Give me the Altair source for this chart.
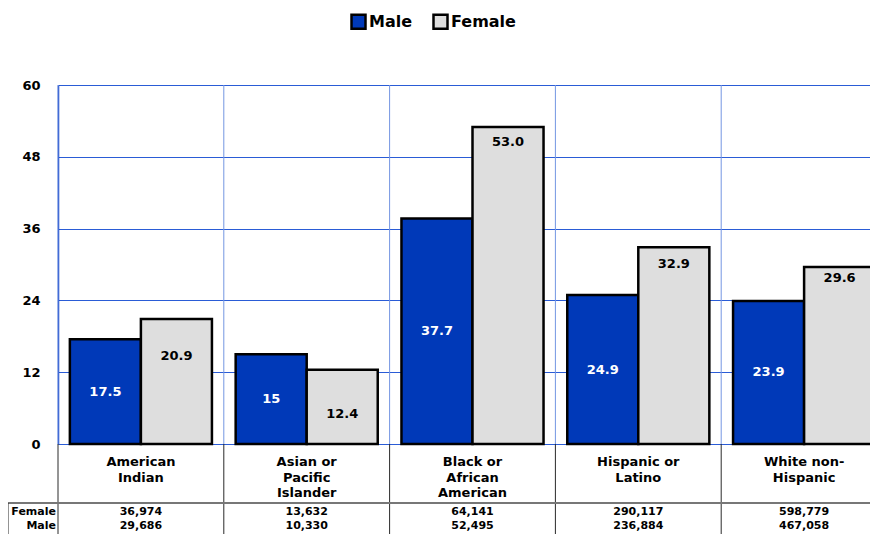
import altair as alt
import pandas as pd

# ---------------- data ----------------
categories = [
    "American Indian",
    "Asian or Pacific Islander",
    "Black or African American",
    "Hispanic or Latino",
    "White non-Hispanic",
]
category_labels = [
    "American\nIndian",
    "Asian or\nPacific\nIslander",
    "Black or\nAfrican\nAmerican",
    "Hispanic or\nLatino",
    "White non-\nHispanic",
]
series = ["Male", "Female"]
male_rates = [17.5, 15.0, 37.7, 24.9, 23.9]
female_rates = [20.9, 12.4, 53.0, 32.9, 29.6]
male_rate_labels = ["17.5", "15", "37.7", "24.9", "23.9"]
female_rate_labels = ["20.9", "12.4", "53.0", "32.9", "29.6"]
female_counts = ["36,974", "13,632", "64,141", "290,117", "598,779"]
male_counts = ["29,686", "10,330", "52,495", "236,884", "467,058"]
y_ticks = [0, 12, 24, 36, 48, 60]

# ---------------- style ----------------
W, H = 812, 359          # visible plot area
BAND_RANGE = 829         # band scale reaches past the right edge (cut off, as in the original)
PAD_BOTTOM = 90
Y_MAX = 60
FONT = "DejaVu Sans"
MALE_COLOR = "#0039B8"
FEMALE_COLOR = "#DEDEDE"
GRID_COLOR = "#2A5CD6"
VGRID_COLOR = "#7496E2"
TABLE_LINE = "#2a2a2a"
# pixel distance of each female value label below the top of its bar
female_label_offsets_px = [37, 44, 15, 17, 11]
CAT_LABEL_Y = H + 12
TABLE_LINE_Y = H + 59
FEMALE_ROW_Y = H + 68
MALE_ROW_Y = H + 82

px_per_unit = H / Y_MAX

bars_df = pd.DataFrame(
    {
        "cat": categories * 2,
        "series": ["Male"] * 5 + ["Female"] * 5,
        "value": male_rates + female_rates,
    }
)
male_lbl_df = pd.DataFrame(
    {
        "cat": categories,
        "series": ["Male"] * 5,
        "value": [v / 2 for v in male_rates],
        "text": male_rate_labels,
    }
)
female_lbl_df = pd.DataFrame(
    {
        "cat": categories,
        "series": ["Female"] * 5,
        "value": [v - o / px_per_unit for v, o in zip(female_rates, female_label_offsets_px)],
        "text": female_rate_labels,
    }
)
cat_df = pd.DataFrame({"cat": categories, "label": category_labels,
                       "female": female_counts, "male": male_counts})
one = pd.DataFrame({"k": [0]})

x_scale = alt.Scale(domain=categories, paddingInner=0, paddingOuter=0,
                    range=[0, BAND_RANGE])
x_enc = alt.X("cat:N", sort=categories, scale=x_scale, axis=None)
x_edge = alt.X("cat:N", sort=categories, scale=x_scale, axis=None, bandPosition=0)
xo_enc = alt.XOffset(
    "series:N", sort=series,
    scale=alt.Scale(domain=series, paddingInner=0, paddingOuter=0.167),
)
y_scale = alt.Scale(domain=[0, Y_MAX], nice=False, zero=True)
y_axis = alt.Axis(
    values=y_ticks, title=None, grid=True, gridColor=GRID_COLOR,
    gridWidth=1.2, gridOpacity=1, ticks=False, domain=True,
    domainColor="#1140C8", domainWidth=1.5, labelPadding=18,
    labelFont=FONT, labelFontWeight="bold", labelFontSize=13,
    labelColor="black", format="d",
)
y_enc = alt.Y("value:Q", scale=y_scale, axis=y_axis)

# vertical band boundaries inside plot
vgrid = alt.Chart(cat_df).mark_rule(color=VGRID_COLOR, strokeWidth=1).encode(
    x=x_edge, y=alt.value(0), y2=alt.value(H),
)
# vertical band boundaries below plot (label + table area)
vlow = alt.Chart(cat_df).mark_rule(color=TABLE_LINE, strokeWidth=1).encode(
    x=x_edge, y=alt.value(H), y2=alt.value(H + PAD_BOTTOM),
)
hline = alt.Chart(one).mark_rule(color="#777777", strokeWidth=2).encode(
    x=alt.value(-50), x2=alt.value(W + 20), y=alt.value(TABLE_LINE_Y)
)
boxline = alt.Chart(one).mark_rule(color=TABLE_LINE, strokeWidth=1).encode(
    x=alt.value(-50), y=alt.value(TABLE_LINE_Y), y2=alt.value(H + PAD_BOTTOM)
)

bars = alt.Chart(bars_df).mark_bar(stroke="black", strokeWidth=2.5, opacity=1).encode(
    x=x_enc,
    xOffset=xo_enc,
    y=y_enc,
    color=alt.Color(
        "series:N",
        sort=series,
        scale=alt.Scale(domain=series, range=[MALE_COLOR, FEMALE_COLOR]),
        legend=alt.Legend(
            orient="none", legendX=292, legendY=-72, direction="horizontal",
            title=None, symbolType="square", symbolSize=196,
            symbolStrokeColor="black", symbolStrokeWidth=2.5, symbolOpacity=1,
            labelFont=FONT, labelFontWeight="bold", labelFontSize=16,
            labelColor="black", labelOffset=2, columnPadding=15, padding=0,
        ),
    ),
)

male_txt = alt.Chart(male_lbl_df).mark_text(
    font=FONT, fontWeight="bold", fontSize=13, color="white", baseline="middle"
).encode(x=x_enc, xOffset=xo_enc, y=y_enc, text="text:N")

female_txt = alt.Chart(female_lbl_df).mark_text(
    font=FONT, fontWeight="bold", fontSize=13, color="black", baseline="middle"
).encode(x=x_enc, xOffset=xo_enc, y=y_enc, text="text:N")

cat_txt = alt.Chart(cat_df).mark_text(
    font=FONT, fontWeight="bold", fontSize=13, color="black", baseline="top",
    lineBreak="\n", lineHeight=15.5,
).encode(x=x_enc, y=alt.value(CAT_LABEL_Y), text="label:N")

fem_txt = alt.Chart(cat_df).mark_text(
    font=FONT, fontWeight="bold", fontSize=11, color="black", baseline="middle"
).encode(x=x_enc, y=alt.value(FEMALE_ROW_Y), text="female:N")
male_cnt_txt = alt.Chart(cat_df).mark_text(
    font=FONT, fontWeight="bold", fontSize=11, color="black", baseline="middle"
).encode(x=x_enc, y=alt.value(MALE_ROW_Y), text="male:N")

row_f = alt.Chart(one).mark_text(
    font=FONT, fontWeight="bold", fontSize=11, color="black", baseline="middle",
    align="right", text="Female",
).encode(x=alt.value(-2), y=alt.value(FEMALE_ROW_Y))
row_m = alt.Chart(one).mark_text(
    font=FONT, fontWeight="bold", fontSize=11, color="black", baseline="middle",
    align="right", text="Male",
).encode(x=alt.value(-2), y=alt.value(MALE_ROW_Y))

chart = (
    alt.layer(vgrid, vlow, hline, boxline, bars, male_txt, female_txt,
              cat_txt, fem_txt, male_cnt_txt, row_f, row_m)
    .properties(
        width=W, height=H,
        autosize=alt.AutoSizeParams(type="none"),
        padding={"left": 50, "top": 77, "right": 0, "bottom": PAD_BOTTOM},
    )
    .configure_view(stroke=None)
    .configure(background="white")
)

chart.save("out.html", embed_options={"renderer": "svg", "actions": False})
